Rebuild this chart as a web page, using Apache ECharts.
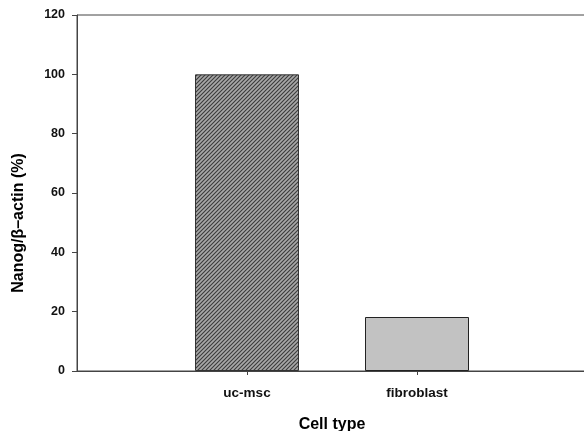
<!DOCTYPE html>
<html>
<head>
<meta charset="utf-8">
<script src="https://cdn.jsdelivr.net/npm/echarts@6/dist/echarts.min.js"></script>
<style>
  html, body { margin: 0; padding: 0; background: #fff; }
  #chart { width: 584px; height: 431px; }
</style>
</head>
<body>
<div id="chart"></div>
<script>
  // data
  const categories = ['uc-msc', 'fibroblast']
  const positions = [1, 2]
  const values = [100, 18.2]
  const yTicks = [0, 20, 40, 60, 80, 100, 120]

  // diagonal hatch for the first bar
  function hatch() {
    const c = document.createElement('canvas')
    c.width = 4
    c.height = 4
    const ctx = c.getContext('2d')
    ctx.fillStyle = '#a8a8a8'
    ctx.fillRect(0, 0, 4, 4)
    ctx.strokeStyle = '#3a3a3a'
    ctx.lineWidth = 1.1
    ctx.beginPath()
    ctx.moveTo(-1, 5); ctx.lineTo(5, -1)
    ctx.moveTo(-1, 1); ctx.lineTo(1, -1)
    ctx.moveTo(3, 5); ctx.lineTo(5, 3)
    ctx.stroke()
    return c
  }

  const font = 'Liberation Sans, Arial, sans-serif'
  const chart = echarts.init(document.getElementById('chart'))
  chart.setOption({
    animation: false,
    grid: {
      left: 77, right: -3, top: 15, bottom: 60,
      outerBoundsMode: 'none',
      containLabel: false,
      show: true, borderColor: '#444', borderWidth: 1
    },
    xAxis: {
      type: 'value',
      min: 0, max: 3, interval: 1,
      name: 'Cell type',
      nameLocation: 'middle',
      nameGap: 46,
      nameTextStyle: { fontFamily: font, fontWeight: 'bold', fontSize: 16, color: '#000' },
      splitLine: { show: false },
      axisLine: { lineStyle: { color: '#444', width: 1 } },
      axisTick: { length: 4, customValues: positions, lineStyle: { color: '#444' } },
      axisLabel: {
        margin: 15,
        customValues: positions,
        fontFamily: font, fontWeight: 'bold', fontSize: 13.5, color: '#111',
        formatter: v => {
          const i = positions.indexOf(v)
          return i >= 0 ? categories[i] : ''
        }
      }
    },
    yAxis: {
      type: 'value',
      min: yTicks[0], max: yTicks[yTicks.length - 1], interval: 20,
      name: 'Nanog/β–actin (%)',
      nameLocation: 'middle',
      nameGap: 50,
      nameTextStyle: {
        fontFamily: font, fontWeight: 'bold', fontSize: 16, color: '#000',
        padding: [0, 60, 0, 0]
      },
      splitLine: { show: false },
      axisLine: { show: true, lineStyle: { color: '#444', width: 1 } },
      axisTick: { show: true, length: 5, lineStyle: { color: '#444' } },
      axisLabel: { margin: 12, fontFamily: font, fontWeight: 'bold', fontSize: 12.5, color: '#111' }
    },
    series: [
      {
        type: 'bar',
        barWidth: 104,
        data: [
          {
            value: [positions[0], values[0]],
            itemStyle: { color: { image: hatch(), repeat: 'repeat' }, borderColor: '#333', borderWidth: 1 }
          },
          {
            value: [positions[1], values[1]],
            itemStyle: { color: '#c2c2c2', borderColor: '#222', borderWidth: 1 }
          }
        ]
      }
    ]
  })
</script>
</body>
</html>
